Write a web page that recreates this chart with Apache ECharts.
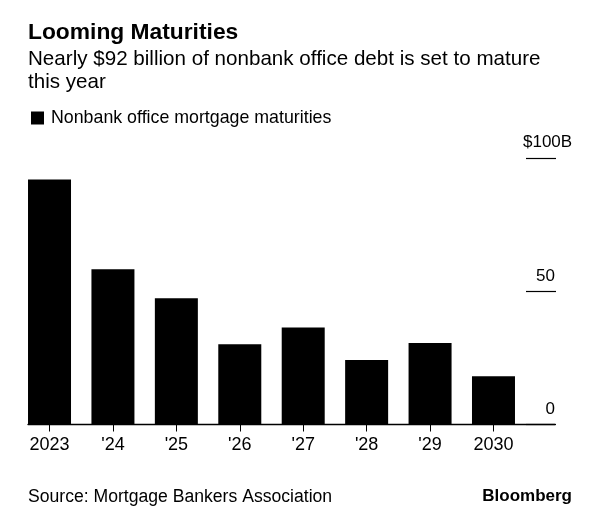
<!DOCTYPE html>
<html>
<head>
<meta charset="utf-8">
<script src="https://cdn.jsdelivr.net/npm/echarts@6/dist/echarts.min.js"></script>
<style>
html,body{margin:0;padding:0;background:#fff;}
#c{width:600px;height:521px;}
</style>
</head>
<body>
<div id="c"></div>
<script>
const categories = ['2023', "'24", "'25", "'26", "'27", "'28", "'29", '2030'];
const maturities = [92, 58.3, 47.4, 30.1, 36.4, 24.2, 30.6, 18.1];
const yTicks = [0, 50, 100];
const seriesName = 'Nonbank office mortgage maturities';

const FONT = '"Liberation Sans", Arial, Helvetica, sans-serif';
const chart = echarts.init(document.getElementById('c'), null, {renderer: 'canvas'});

const option = {
  animation: false,
  backgroundColor: '#fff',
  textStyle: {fontFamily: FONT, color: '#000'},
  title: [
    {text: 'Looming Maturities', left: 28, top: 21, padding: 0,
     textStyle: {fontSize: 22.8, fontWeight: 'bold', color: '#000', fontFamily: FONT, lineHeight: 23}},
    {text: 'Nearly $92 billion of nonbank office debt is set to mature\nthis year', left: 28, top: 48, padding: 0,
     textStyle: {fontSize: 20.6, fontWeight: 'normal', color: '#000', fontFamily: FONT, lineHeight: 23}},
    {text: 'Source: Mortgage Bankers Association', left: 28, top: 488, padding: 0,
     textStyle: {fontSize: 17.6, fontWeight: 'normal', color: '#000', fontFamily: FONT, lineHeight: 18}},
    {text: 'Bloomberg', right: 28, top: 488, padding: 0,
     textStyle: {fontSize: 17, fontWeight: 'bold', color: '#000', fontFamily: FONT, lineHeight: 17}}
  ],
  legend: {
    left: 31, top: 109, padding: 0,
    icon: 'rect', itemWidth: 13, itemHeight: 13,
    data: [seriesName],
    textStyle: {fontSize: 17.8, color: '#000', fontFamily: FONT, padding: [0, 0, 0, 2]}
  },
  grid: [
    {left: 17.8, right: 74.8, top: 158.3, bottom: 96.5},
    {left: 28, right: 45, top: 158.3, bottom: 96.5},
    {left: 526, right: 44, top: 158.3, bottom: 96.5}
  ],
  xAxis: [
    {type: 'category', gridIndex: 0, data: categories,
     axisLine: {show: false},
     axisTick: {show: true, alignWithLabel: true, length: 7, lineStyle: {color: '#000', width: 1}},
     axisLabel: {fontSize: 18, color: '#000', fontFamily: FONT, margin: 12, interval: 0},
     splitLine: {show: false}},
    {type: 'value', gridIndex: 1, min: 0, max: 1, position: 'bottom',
     axisLine: {show: true, onZero: false, lineStyle: {color: '#000', width: 1.4}},
     axisTick: {show: false}, axisLabel: {show: false}, splitLine: {show: false}},
    {type: 'value', gridIndex: 2, show: false}
  ],
  yAxis: [
    {type: 'value', gridIndex: 0, min: 0, max: 100, interval: 50, show: false},
    {type: 'value', gridIndex: 1, min: 0, max: 100, interval: 50, show: false},
    {type: 'value', gridIndex: 2, min: 0, max: 100, interval: 50, position: 'right',
     axisLine: {show: false}, axisTick: {show: false},
     splitLine: {show: true, lineStyle: {color: '#000', width: 1.2}},
     axisLabel: {
       inside: true, margin: 1, verticalAlign: 'bottom', padding: [0, 0, 7, 0],
       fontSize: 17, color: '#000', fontFamily: FONT,
       formatter: function (v) {
         if (v === yTicks[yTicks.length - 1]) return '{w|$' + v + 'B}';
         return String(v);
       },
       rich: {w: {width: 32, align: 'left', fontSize: 17, color: '#000', fontFamily: FONT}}
     }}
  ],
  series: [
    {name: seriesName, type: 'bar', xAxisIndex: 0, yAxisIndex: 0,
     data: maturities, barWidth: 43,
     itemStyle: {color: '#000'}}
  ]
};
chart.setOption(option);
</script>
</body>
</html>
